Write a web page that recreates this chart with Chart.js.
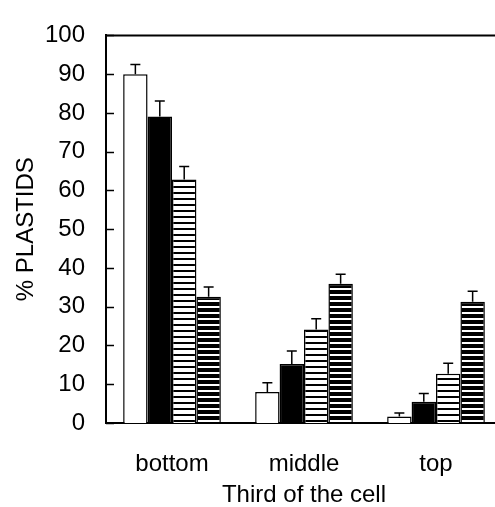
<!DOCTYPE html>
<html><head><meta charset="utf-8">
<script src="https://cdn.jsdelivr.net/npm/chart.js@4"></script>
<style>
html,body{margin:0;padding:0;background:#fff;overflow:hidden;}
#wrap{width:495px;height:507px;overflow:hidden;position:relative;background:#fff;}
canvas{display:block;}
</style></head><body>
<div id="wrap"><canvas id="c" width="502" height="507"></canvas></div>
<script>
// ---- data ----
const categories = ['bottom', 'middle', 'top'];
const seriesWhite   = [90.0, 8.0, 1.7];
const seriesBlack   = [79.1, 15.2, 5.5];
const seriesStriped = [62.8, 24.1, 12.7];
const seriesDense   = [32.6, 35.9, 31.3];
const errWhite   = [2.5, 2.4, 0.9];
const errBlack   = [4.0, 3.4, 2.1];
const errStriped = [3.4, 2.8, 2.7];
const errDense   = [2.5, 2.5, 2.7];
const yTickValues = [0, 10, 20, 30, 40, 50, 60, 70, 80, 90, 100];
const xTitle = 'Third of the cell';
const yTitle = '% PLASTIDS';

// ---- patterns ----
function stripePattern(bg, fg, fgRows) {
  const c = document.createElement('canvas');
  c.width = 8; c.height = 6;
  const g = c.getContext('2d');
  g.fillStyle = bg; g.fillRect(0, 0, 8, 6);
  g.fillStyle = fg; g.fillRect(0, 0, 8, fgRows);
  return g.createPattern(c, 'repeat');
}
const ctx = document.getElementById('c').getContext('2d');
const patStriped = stripePattern('#ffffff', '#000000', 2);
const patDense = stripePattern('#000000', '#ffffff', 2);

const FONT = {family: '"Liberation Sans", Arial, Helvetica, sans-serif', size: 24};

const extras = {
  id: 'extras',
  afterDatasetsDraw(chart) {
    const c = chart.ctx, ys = chart.scales.y, area = chart.chartArea;
    c.save();
    c.strokeStyle = '#000';
    c.lineWidth = 1.5;
    chart.data.datasets.forEach((ds, i) => {
      const meta = chart.getDatasetMeta(i);
      meta.data.forEach((bar, j) => {
        const v = ds.data[j], e = ds.errors[j];
        const y0 = ys.getPixelForValue(v), y1 = ys.getPixelForValue(v + e);
        c.beginPath();
        c.moveTo(bar.x, y0); c.lineTo(bar.x, y1);
        c.moveTo(bar.x - 5, y1); c.lineTo(bar.x + 5, y1);
        c.stroke();
      });
    });
    // inward y ticks
    c.lineWidth = 1.5;
    ys.ticks.forEach(t => {
      const py = Math.round(ys.getPixelForValue(t.value)) + 0.5;
      c.beginPath(); c.moveTo(area.left, py); c.lineTo(area.left + 8, py); c.stroke();
    });
    // top frame line
    c.lineWidth = 2;
    c.beginPath(); c.moveTo(area.left, area.top); c.lineTo(area.right, area.top); c.stroke();
    c.restore();
  }
};

new Chart(ctx, {
  type: 'bar',
  data: {
    labels: categories,
    datasets: [
      {label: 'A', data: seriesWhite, errors: errWhite, backgroundColor: '#ffffff'},
      {label: 'B', data: seriesBlack, errors: errBlack, backgroundColor: '#000000'},
      {label: 'C', data: seriesStriped, errors: errStriped, backgroundColor: patStriped},
      {label: 'D', data: seriesDense, errors: errDense, backgroundColor: patDense}
    ].map(d => Object.assign(d, {borderColor: '#000', borderWidth: 1.5, borderSkipped: 'bottom',
      categoryPercentage: 0.74, barPercentage: 1.0}))
  },
  options: {
    responsive: false,
    animation: false,
    devicePixelRatio: 1,
    layout: {padding: {top: 22, right: 0, bottom: 0, left: 0}},
    plugins: {legend: {display: false}, tooltip: {enabled: false}},
    scales: {
      x: {
        grid: {display: false, drawTicks: false},
        border: {display: true, color: '#000', width: 2},
        ticks: {color: '#000', font: FONT, padding: 27, maxRotation: 0},
        title: {display: true, text: xTitle, color: '#000', font: Object.assign({lineHeight: 1}, FONT), padding: {top: 0, bottom: 0}},
        afterFit(s) { s.height = 84; }
      },
      y: {
        min: 0, max: 100,
        afterBuildTicks(s) { s.ticks = yTickValues.map(v => ({value: v})); },
        grid: {display: false, drawTicks: false},
        border: {display: true, color: '#000', width: 2},
        ticks: {color: '#000', font: FONT, padding: 21},
        title: {display: true, text: yTitle, color: '#000', font: Object.assign({lineHeight: 1}, FONT), padding: {top: 14, bottom: 0}},
        afterFit(s) { s.width = 106; }
      }
    }
  },
  plugins: [extras]
});
</script>
</body></html>
